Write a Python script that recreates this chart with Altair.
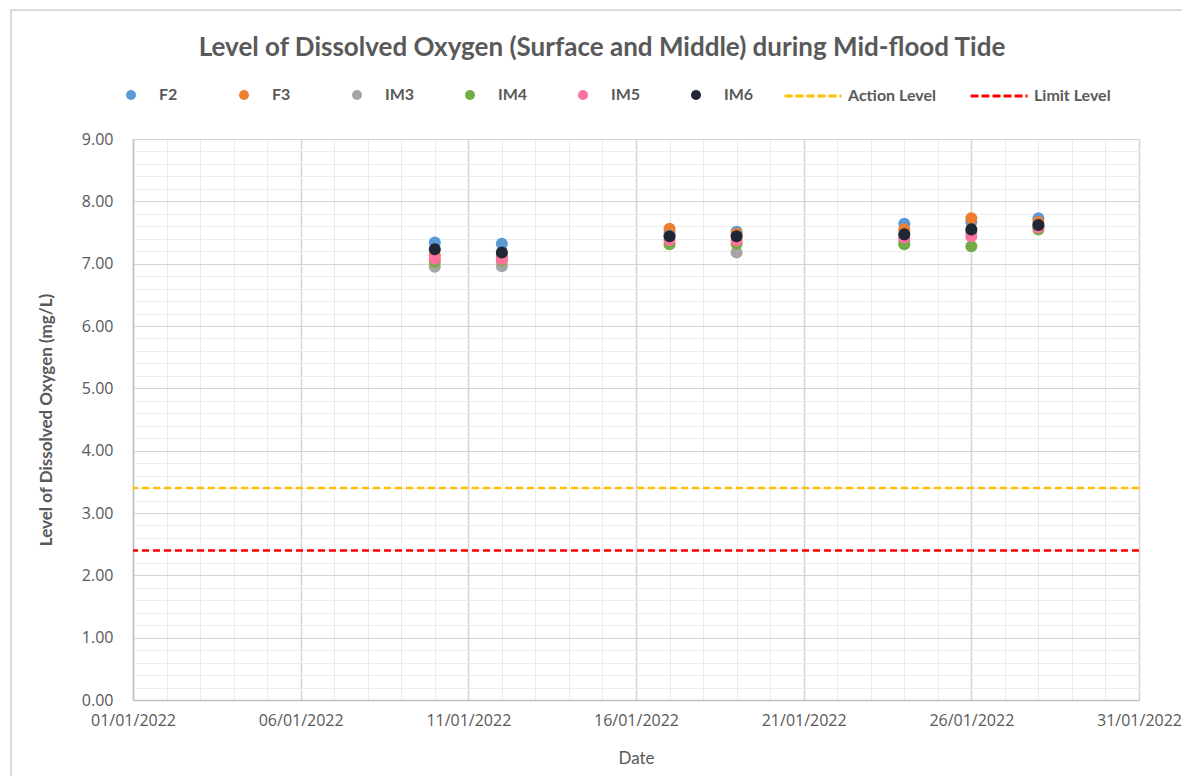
import altair as alt
import pandas as pd

# ---- data ----
dates = ["2022-01-10", "2022-01-12", "2022-01-17", "2022-01-19",
         "2022-01-24", "2022-01-26", "2022-01-28"]
F2 = [7.34, 7.32, 7.50, 7.51, 7.64, 7.67, 7.73]
F3 = [7.13, 7.12, 7.56, 7.48, 7.55, 7.73, 7.67]
IM3 = [6.95, 6.96, 7.45, 7.18, 7.37, 7.50, 7.60]
IM4 = [7.03, 7.05, 7.31, 7.32, 7.31, 7.28, 7.55]
IM5 = [7.08, 7.07, 7.38, 7.37, 7.42, 7.44, 7.58]
IM6 = [7.23, 7.18, 7.44, 7.44, 7.47, 7.55, 7.62]
stations = ["F2", "F3", "IM3", "IM4", "IM5", "IM6"]
station_colors = ["#5B9BD5", "#ED7D31", "#A5A5A5", "#70AD47", "#FF6F9F", "#1E2733"]
levels = ["Action Level", "Limit Level"]
level_values = [3.4, 2.4]
level_colors = ["#FFC000", "#FF0000"]

series = dict(zip(stations, [F2, F3, IM3, IM4, IM5, IM6]))
rows = []
for s in stations:
    for d, v in zip(dates, series[s]):
        rows.append({"date": d, "station": s, "value": v})
pts = pd.DataFrame(rows)
lv = pd.DataFrame({"level": levels, "value": level_values})

TXT = "#595959"
FONT = "Lato"
TICKFONT = "Open Sans"

x_days = [alt.DateTime(year=2022, month=1, date=d, utc=True) for d in range(1, 32)]
y_vals = [round(i * 0.2, 1) for i in range(46)]

x_enc = alt.X(
    "date:T",
    title="Date",
    scale=alt.Scale(type="utc", domain=[x_days[0], x_days[-1]], nice=False),
    axis=alt.Axis(
        values=x_days,
        tickCount=200,
        labelExpr="utcdate(datum.value) % 5 == 1 ? utcFormat(datum.value, '%d/%m/%Y') : ''",
        labelOverlap=False,
        labelFlush=False,
        ticks=False,
        domainColor="#bfbfbf",
        domainWidth=1.5,
        gridColor={"condition": {"test": "utcdate(datum.value) % 5 == 1", "value": "#d4d4d4"},
                   "value": "#ececec"},
        gridWidth={"condition": {"test": "utcdate(datum.value) % 5 == 1", "value": 1.5},
                   "value": 1},
        labelFont=TICKFONT, labelFontSize=16, labelColor=TXT, labelPadding=12,
        titleFont=FONT, titleFontSize=17, titleColor=TXT, titleFontWeight="normal",
        titlePadding=22,
    ),
)
y_enc = alt.Y(
    "value:Q",
    title="Level of Dissolved Oxygen (mg/L)",
    scale=alt.Scale(domain=[0, 9], nice=False),
    axis=alt.Axis(
        values=y_vals,
        tickCount=200,
        labelExpr="abs(datum.value - round(datum.value)) < 0.001 ? format(datum.value, '.2f') : ''",
        labelOverlap=False,
        labelFlush=False,
        ticks=False,
        domainColor="#bfbfbf",
        domainWidth=1.5,
        gridColor={"condition": {"test": "abs(datum.value - round(datum.value)) < 0.001", "value": "#d4d4d4"},
                   "value": "#ececec"},
        labelFont=TICKFONT, labelFontSize=16, labelColor=TXT, labelPadding=20,
        titleFont=FONT, titleFontSize=17, titleColor=TXT, titleFontWeight="bold",
        titlePadding=26,
    ),
)

frame = alt.Chart(pd.DataFrame({"k": [0]})).mark_rect(
    fill=None, stroke="#d0d0d0", strokeWidth=1.5
).encode(x=alt.value(-122), x2=alt.value(1100), y=alt.value(-129), y2=alt.value(700))

points = alt.Chart(pts).mark_circle(size=145, opacity=1).encode(
    x=x_enc,
    y=y_enc,
    color=alt.Color(
        "station:N",
        scale=alt.Scale(domain=stations, range=station_colors),
        legend=alt.Legend(
            title=None, orient="none", direction="horizontal", columns=6,
            legendX=-10, legendY=-52, gridAlign="all", columnPadding=47,
            symbolType="circle", symbolSize=100, labelOffset=20,
            labelFont=FONT, labelFontSize=16, labelFontWeight="bold",
            labelColor=TXT, padding=0,
        ),
    ),
    order=alt.Order("ord:Q"),
).transform_calculate(ord="indexof(['F2','F3','IM3','IM4','IM5','IM6'], datum.station)")

rules = alt.Chart(lv).mark_rule(strokeDash=[7, 4], strokeWidth=2.5).encode(
    y=alt.Y("value:Q"),
    color=alt.Color(
        "level:N",
        scale=alt.Scale(domain=levels, range=level_colors),
        legend=alt.Legend(
            title=None, orient="none", direction="horizontal", columns=2,
            legendX=650, legendY=-73, columnPadding=28,
            symbolType="stroke", symbolSize=3249, symbolStrokeWidth=3,
            symbolDash=[8, 3], labelOffset=5,
            labelFont=FONT, labelFontSize=16, labelFontWeight="bold",
            labelColor=TXT, padding=0,
        ),
    ),
)

chart = alt.layer(frame, rules, points).resolve_scale(color="independent").properties(
    width=1006,
    height=561,
    autosize=alt.AutoSizeParams(type="none"),
    padding={"left": 125, "top": 131, "right": 43, "bottom": 76},
    title=alt.TitleParams(
        "Level of Dissolved Oxygen (Surface and Middle) during Mid-flood Tide",
        anchor="middle", dx=-34, offset=0, dy=52, font=FONT, fontSize=26,
        fontWeight="bold", color=TXT,
    ),
).configure_view(stroke=None)

chart.save("out.html", embed_options={"renderer": "svg", "actions": False})
